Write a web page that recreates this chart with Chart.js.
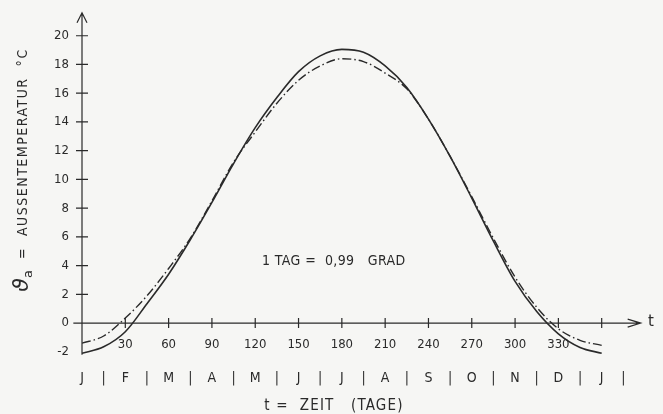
<!DOCTYPE html>
<html lang="de">
<head>
<meta charset="UTF-8">
<title>Aussentemperatur im Jahresverlauf</title>
<script src="https://cdn.jsdelivr.net/npm/chart.js"></script>
<style>
  html, body { margin: 0; padding: 0; background: #f6f6f4; }
</style>
</head>
<body>
<canvas id="chart" width="663" height="414"></canvas>
<script>
// Tage im Jahr (Stützstellen)
const tage = [0, 15, 30, 45, 60, 75, 90, 105, 120, 135, 150, 165, 180,
              195, 210, 225, 240, 255, 270, 285, 300, 315, 330, 345, 360];
// ausgezogene Kurve
const kurveVoll = [-2.1, -1.65, -0.6, 1.35, 3.4, 5.8, 8.4, 11.1, 13.6, 15.7, 17.5, 18.6, 19.05,
                   18.85, 17.9, 16.4, 14.2, 11.6, 8.7, 5.7, 2.9, 0.8, -0.75, -1.7, -2.1];
// strichpunktierte Kurve
const kurveStrich = [-1.4, -0.9, 0.35, 1.9, 3.8, 5.9, 8.5, 11.2, 13.3, 15.3, 16.9, 17.9, 18.4,
                     18.2, 17.4, 16.3, 14.2, 11.6, 8.8, 5.9, 3.2, 1.1, -0.4, -1.2, -1.55];

const yTicks = [-2, 0, 2, 4, 6, 8, 10, 12, 14, 16, 18, 20];
const xTicks = [30, 60, 90, 120, 150, 180, 210, 240, 270, 300, 330];
const xMarks = [30, 60, 90, 120, 150, 180, 210, 240, 270, 300, 330, 360];
const monate = ['J', 'F', 'M', 'A', 'M', 'J', 'J', 'A', 'S', 'O', 'N', 'D', 'J'];

const FONT = '"DejaVu Sans", sans-serif';
const FONT_SCHMAL = '"DejaVu Sans Condensed", "DejaVu Sans", sans-serif';
const INK = '#2a2a2a';

function punkte(werte) {
    return tage.map((t, i) => ({ x: t, y: werte[i] }));
}

// Achsen, Beschriftungen usw. von Hand zeichnen
const achsenPlugin = {
    id: 'achsen',
    beforeDatasetsDraw(chart) {
        const ctx = chart.ctx;
        const xs = chart.scales.x;
        const ys = chart.scales.y;
        const x0 = xs.getPixelForValue(0);
        const y0 = ys.getPixelForValue(0);

        ctx.save();
        ctx.strokeStyle = INK;
        ctx.fillStyle = INK;
        ctx.lineWidth = 1.2;

        // y-Achse mit Pfeil
        const yTop = ys.getPixelForValue(21.6);
        ctx.beginPath();
        ctx.moveTo(x0, ys.getPixelForValue(-2.2));
        ctx.lineTo(x0, yTop);
        ctx.moveTo(x0 - 5, yTop + 10);
        ctx.lineTo(x0, yTop);
        ctx.lineTo(x0 + 5, yTop + 10);
        ctx.stroke();

        // x-Achse mit Pfeil
        const xEnd = xs.getPixelForValue(387);
        ctx.beginPath();
        ctx.moveTo(xs.getPixelForValue(-6), y0);
        ctx.lineTo(xEnd, y0);
        ctx.moveTo(xEnd - 13, y0 - 4);
        ctx.lineTo(xEnd, y0);
        ctx.lineTo(xEnd - 13, y0 + 4);
        ctx.stroke();

        // Teilstriche
        ctx.beginPath();
        yTicks.filter(v => v > 0).forEach(v => {
            const y = ys.getPixelForValue(v);
            ctx.moveTo(x0 - 6, y);
            ctx.lineTo(x0 + 6, y);
        });
        xMarks.forEach(v => {
            const x = xs.getPixelForValue(v);
            ctx.moveTo(x, y0 - 5);
            ctx.lineTo(x, y0 + 5);
        });
        ctx.stroke();

        // y-Beschriftung
        ctx.font = '13px ' + FONT_SCHMAL;
        ctx.textAlign = 'right';
        ctx.textBaseline = 'middle';
        yTicks.forEach(v => {
            ctx.fillText(v === -2 ? '-2' : String(v), x0 - 13, ys.getPixelForValue(v));
        });

        // x-Beschriftung
        ctx.textAlign = 'center';
        xTicks.forEach(v => {
            ctx.fillText(String(v), xs.getPixelForValue(v), 345);
        });

        // Monate
        ctx.font = '14px ' + FONT_SCHMAL;
        monate.forEach((m, i) => {
            ctx.fillText(m, xs.getPixelForValue(i * 30), 378);
            ctx.fillText('|', xs.getPixelForValue(i * 30 + 15), 378);
        });

        // Achsentitel
        ctx.letterSpacing = '1.2px';
        ctx.font = '15px ' + FONT_SCHMAL;
        ctx.fillText('t =  ZEIT   (TAGE)', 334, 406);
        ctx.letterSpacing = '0px';
        ctx.font = '15px ' + FONT;
        ctx.textAlign = 'left';
        ctx.fillText('t', 648, y0 - 1);

        // Hinweis
        ctx.letterSpacing = '0.4px';
        ctx.font = '14px ' + FONT_SCHMAL;
        ctx.fillText('1 TAG =  0,99   GRAD', 262, 261);

        // senkrechter Titel
        ctx.translate(23, 170);
        ctx.rotate(-Math.PI / 2);
        const teile = [
            { t: 'ϑ', f: 'italic 22px ' + FONT, dy: -1, ls: '0px' },
            { t: 'a', f: '13px ' + FONT, dy: 6, ls: '0px' },
            { t: '  =  AUSSENTEMPERATUR  °C', f: '14px ' + FONT_SCHMAL, dy: 0, ls: '1.5px' }
        ];
        let breite = 0;
        teile.forEach(p => {
            ctx.font = p.f;
            ctx.letterSpacing = p.ls;
            breite += ctx.measureText(p.t).width;
        });
        let cx = -breite / 2;
        teile.forEach(p => {
            ctx.font = p.f;
            ctx.letterSpacing = p.ls;
            ctx.fillText(p.t, cx, p.dy);
            cx += ctx.measureText(p.t).width;
        });
        ctx.restore();
    }
};

const ctx = document.getElementById('chart').getContext('2d');
new Chart(ctx, {
    type: 'line',
    data: {
        datasets: [
            {
                data: punkte(kurveVoll),
                borderColor: INK,
                borderWidth: 1.6,
                cubicInterpolationMode: 'monotone'
            },
            {
                data: punkte(kurveStrich),
                borderColor: INK,
                borderWidth: 1.4,
                borderDash: [9, 3, 1.5, 3],
                cubicInterpolationMode: 'monotone'
            }
        ]
    },
    options: {
        responsive: false,
        animation: false,
        layout: { padding: { left: 82, right: 18, top: 7, bottom: 55 } },
        elements: { point: { radius: 0 } },
        scales: {
            x: { type: 'linear', min: 0, max: 390, display: false },
            y: { min: -2.5, max: 22, display: false }
        },
        plugins: {
            legend: { display: false },
            tooltip: { enabled: false }
        }
    },
    plugins: [achsenPlugin]
});
</script>
</body>
</html>
